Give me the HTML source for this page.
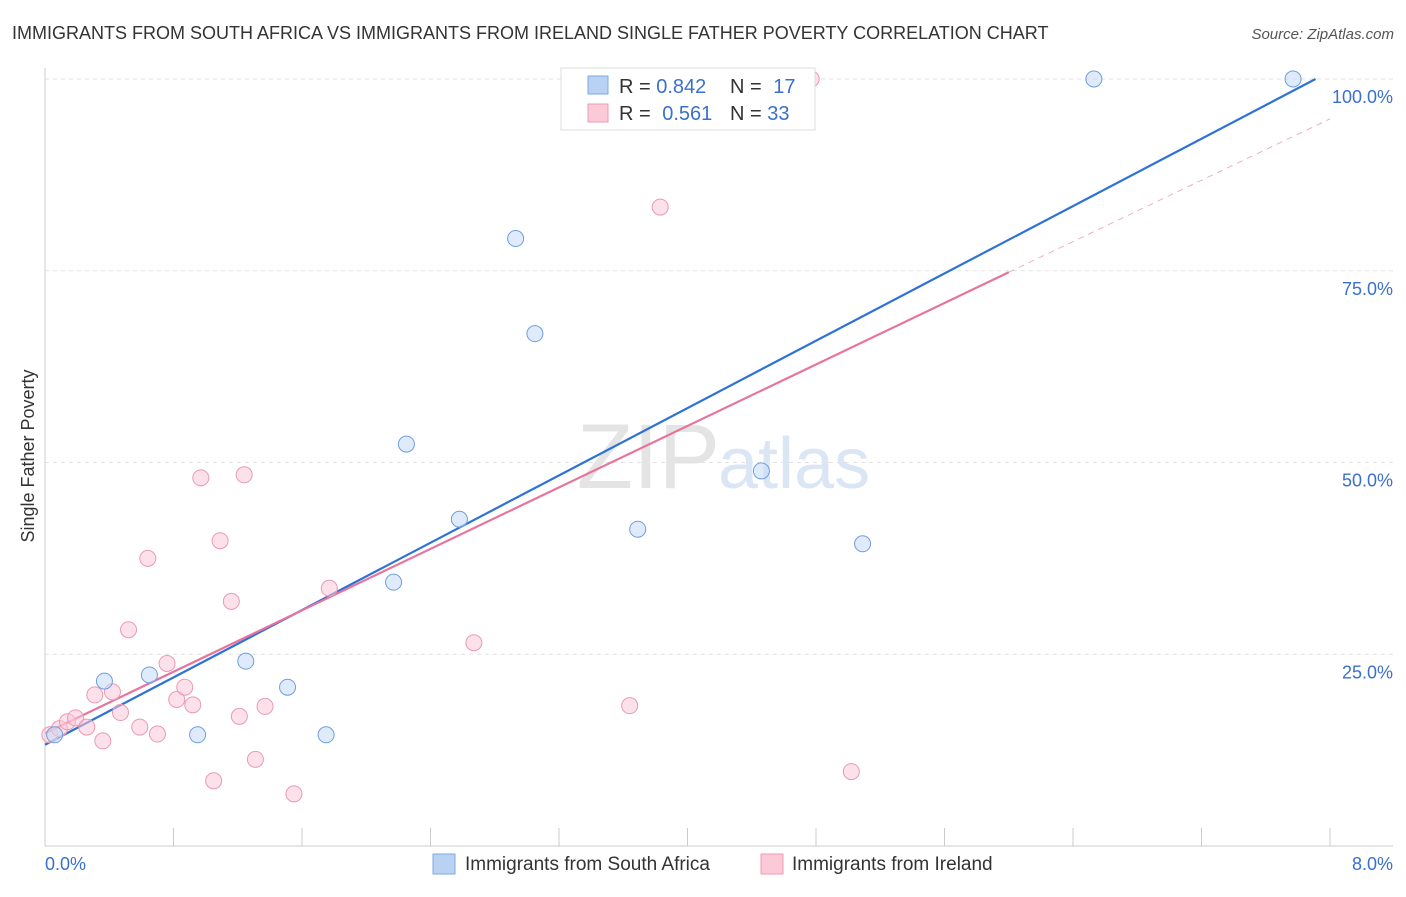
<!DOCTYPE html>
<html><head><meta charset="utf-8"><style>
body{margin:0;background:#fff;font-family:"Liberation Sans",sans-serif;}
svg text{font-family:"Liberation Sans",sans-serif;}
</style></head><body>
<svg width="1406" height="892" xmlns="http://www.w3.org/2000/svg">
<text x="12" y="39" font-size="18" fill="#333">IMMIGRANTS FROM SOUTH AFRICA VS IMMIGRANTS FROM IRELAND SINGLE FATHER POVERTY CORRELATION CHART</text>
<text x="1394" y="39" font-size="15" fill="#555" font-style="italic" text-anchor="end">Source: ZipAtlas.com</text>
<g id="grid"></g>
<text x="720" y="488" font-size="92" fill="#e4e4e4" text-anchor="end" font-family="Liberation Serif">ZIP</text>
<text x="718" y="488" font-size="72" fill="#dbe6f5">atlas</text>
<g id="lines"></g>
<g id="points"></g>
<text x="34" y="456" font-size="18" fill="#333" transform="rotate(-90 34 456)" text-anchor="middle">Single Father Poverty</text>
<text x="45" y="870" font-size="18" fill="#3a70cc">0.0%</text>
<text x="1393" y="870" font-size="18" fill="#3a70cc" text-anchor="end">8.0%</text>
<g>
<rect x="561" y="68" width="254" height="62" fill="#fff" stroke="#ddd"/>
<rect x="588" y="76" width="20" height="18" fill="#b9d2f3" stroke="#7fa7e0"/>
<rect x="588" y="104" width="20" height="18" fill="#fbc9d8" stroke="#ee9ab3"/>
<text x="619" y="93" font-size="20" fill="#333">R = <tspan fill="#3a70cc">0.842</tspan></text>
<text x="730" y="93" font-size="20" fill="#333">N = <tspan fill="#3a70cc" dx="6">17</tspan></text>
<text x="619" y="120" font-size="20" fill="#333">R = <tspan fill="#3a70cc" dx="6">0.561</tspan></text>
<text x="730" y="120" font-size="20" fill="#333">N = <tspan fill="#3a70cc">33</tspan></text>
</g>
<g>
<rect x="433" y="854" width="22" height="20" fill="#b9d2f3" stroke="#7fa7e0"/>
<text x="465" y="870" font-size="19" fill="#333">Immigrants from South Africa</text>
<rect x="761" y="854" width="22" height="20" fill="#fbc9d8" stroke="#ee9ab3"/>
<text x="792" y="870" font-size="19" fill="#333">Immigrants from Ireland</text>
</g>
</svg>
<script>
const yTicks=[25,50,75,100];
const yTickLabels=["25.0%","50.0%","75.0%","100.0%"];
const blueX=[0.06,0.37,0.65,0.95,1.25,1.51,1.75,2.17,2.25,2.58,2.93,3.05,3.69,4.46,5.09,6.53,7.77];
const blueY=[14.5,21.5,22.3,14.5,24.1,20.7,14.5,34.4,52.4,42.6,79.2,66.8,41.3,48.9,39.4,100,100];
const pinkX=[0.03,0.09,0.14,0.19,0.26,0.31,0.36,0.42,0.47,0.52,0.59,0.64,0.70,0.76,0.82,0.87,0.92,0.97,1.05,1.09,1.16,1.21,1.24,1.31,1.37,1.55,1.77,2.67,3.33,3.64,3.83,4.77,5.02];
const pinkY=[14.5,15.3,16.2,16.7,15.5,19.7,13.7,20.1,17.4,28.2,15.5,37.5,14.6,23.8,19.1,20.7,18.4,48.0,8.5,39.8,31.9,16.9,48.4,11.3,18.2,6.8,33.6,26.5,100,18.3,83.3,100,9.7];
const blueLine=[[0,13.2],[7.91,100]];
const pinkLine=[[0,14.7],[6.0,74.8]];
const pinkDash=[[6.0,74.8],[8.0,94.8]];
const NS="http://www.w3.org/2000/svg";
const X=v=>45+v/8*1285, Y=v=>846-v/100*767;
function mk(t,a,p){const e=document.createElementNS(NS,t);for(const k in a)e.setAttribute(k,a[k]);p.appendChild(e);return e;}
const grid=document.getElementById('grid');
yTicks.forEach((t,i)=>{
 const l=mk('line',{x1:45,x2:1393,y1:Y(t),y2:Y(t),stroke:'#e2e2e2','stroke-dasharray':'4 4'},grid);
 
 
 const tx=mk('text',{x:1393,y:Y(t)+24,'font-size':18,fill:'#3a70cc','text-anchor':'end'},grid);
 tx.textContent=yTickLabels[i];
 
 
});
mk('line',{x1:45,x2:45,y1:68,y2:846,stroke:'#ccc'},grid);
mk('line',{x1:45,x2:1393,y1:846,y2:846,stroke:'#ccc'},grid);
for(let i=1;i<=10;i++){const xt=X(i*0.8);const t=mk('line',{x1:xt,x2:xt,y1:828,y2:846,stroke:'#ccc'},grid);
 
 }
const lines=document.getElementById('lines');
function ln(d,c,w,dash,name){const e=mk('line',{x1:X(d[0][0]),y1:Y(d[0][1]),x2:X(d[1][0]),y2:Y(d[1][1]),stroke:c,'stroke-width':w},lines);if(dash)e.setAttribute('stroke-dasharray',dash);
 
 }
ln(pinkDash,'#eab0c2',1,'6 5','ireland-trend-extension');
const pts=document.getElementById('points');
function dots(xs,ys,f,s,name){xs.forEach((x,i)=>{const c=mk('circle',{cx:X(x),cy:Y(ys[i]),r:8,fill:f,stroke:s,'stroke-width':1,'fill-opacity':0.55},pts);
 
 });}
dots(pinkX,pinkY,'#fbc9d8','#e99ab2','ireland-point');
dots(blueX,blueY,'#c5daf5','#6f9ee0','south-africa-point');
ln(blueLine,'#2e72d6',2.2,null,'south-africa-trend-line');
ln(pinkLine,'#e8739c',2.2,null,'ireland-trend-line');
</script>
</body></html>
